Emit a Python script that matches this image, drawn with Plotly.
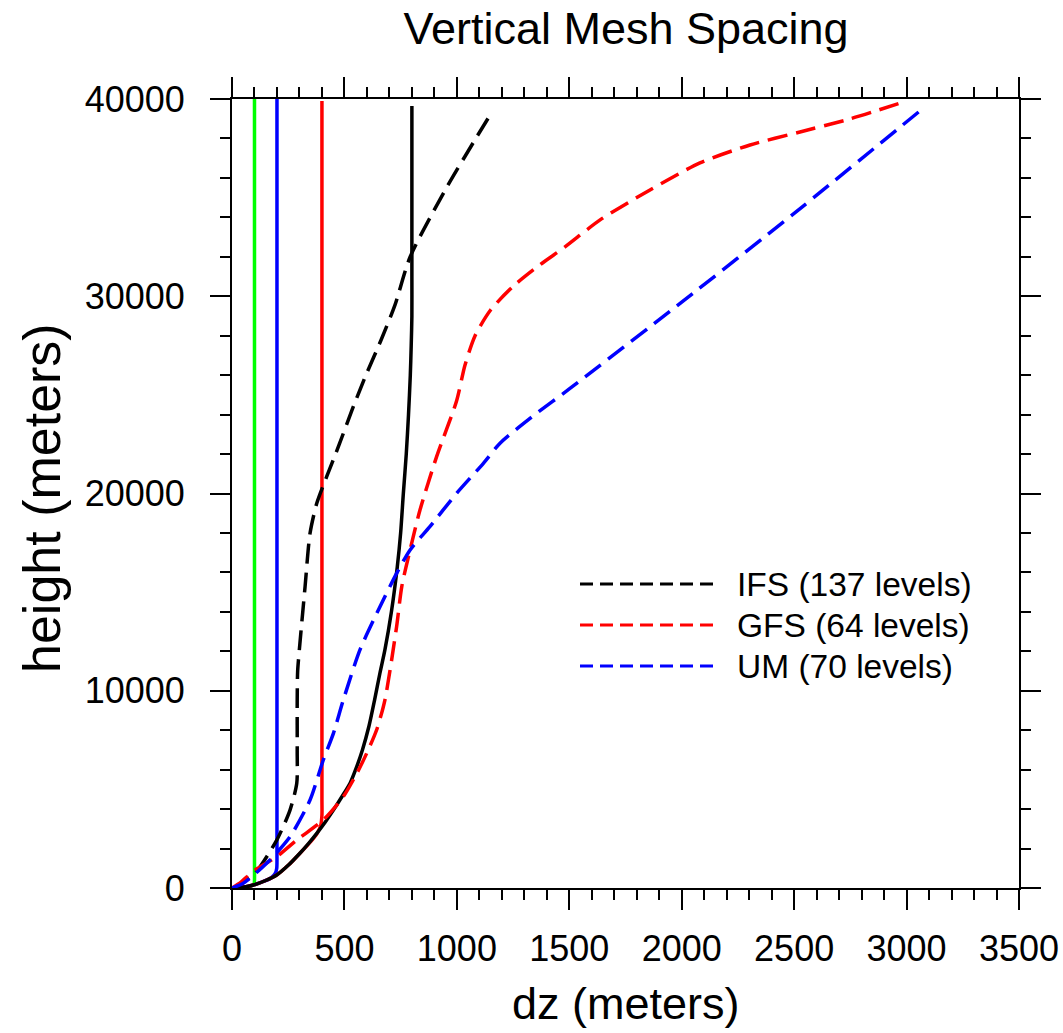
import plotly.graph_objects as go

# ---------------- data (dz in meters, height in meters) ----------------
# solid reference grids
blk_solid_dz = [0, 40, 95, 150, 199, 250, 302, 340, 377, 415, 451, 490, 525, 553, 580, 609, 634, 658, 680, 709, 735, 750, 762, 775, 785, 793, 797, 800, 800, 800, 800]
blk_solid_h = [0, 25, 150, 380, 660, 1150, 1760, 2250, 2770, 3350, 3950, 4650, 5310, 6100, 7000, 8200, 9530, 10900, 12070, 14000, 16270, 18000, 20000, 22000, 24000, 26000, 27500, 29000, 31000, 35000, 39650]

red_solid_dz = [0, 40, 95, 150, 199, 250, 302, 350, 380, 395, 400, 400, 400, 400]
red_solid_h = [0, 25, 150, 380, 660, 1150, 1760, 2350, 2800, 3200, 3700, 4500, 8000, 39900]

blue_solid_dz = [0, 60, 95, 140, 175, 193, 199, 200, 200, 200, 200]
blue_solid_h = [0, 60, 150, 330, 520, 750, 1000, 1300, 2000, 5000, 40000]

green_solid_dz = [0, 50, 80, 95, 99, 100, 100, 100, 100]
green_solid_h = [0, 40, 90, 150, 250, 400, 1500, 5000, 40000]

# operational model grids (dashed)
ifs_dz = [0, 21, 102, 199, 258, 288, 290, 290, 292, 302, 325, 347, 377, 421, 476, 534, 596, 663, 725, 792, 956, 1072, 1156]
ifs_h = [0, 65, 745, 2430, 3950, 5310, 7000, 9530, 11000, 12400, 15280, 17980, 19500, 20850, 22460, 24240, 26010, 27780, 29560, 31990, 35540, 37770, 39340]

gfs_dz = [0, 40, 102, 199, 288, 406, 495, 555, 599, 643, 680, 732, 755, 792, 836, 910, 999, 1036, 1081, 1150, 1250, 1370, 1481, 1637, 1859, 2081, 2304, 2526, 2748, 2993]
gfs_h = [0, 300, 910, 1590, 2430, 3450, 4630, 5810, 6830, 8010, 9530, 13250, 15280, 17140, 19160, 21870, 24700, 26500, 28000, 29300, 30500, 31600, 32500, 33870, 35390, 36760, 37670, 38330, 38990, 39870]

um_dz = [0, 50, 154, 258, 347, 406, 451, 495, 569, 658, 732, 792, 880, 999, 1118, 1192, 1330, 1500, 2000, 2500, 3064]
um_h = [0, 240, 1250, 2600, 4460, 6490, 7840, 9530, 12070, 14260, 15950, 17140, 18320, 20010, 21530, 22550, 23850, 25300, 29700, 34200, 39440]

legend_labels = ["IFS (137 levels)", "GFS (64 levels)", "UM (70 levels)"]
legend_colors = ["black", "red", "blue"]

x_ticks = [0, 500, 1000, 1500, 2000, 2500, 3000, 3500]
y_ticks = [0, 10000, 20000, 30000, 40000]

FONT = "Liberation Sans, Arial, Helvetica, sans-serif"
W, H = 1063, 1033
L, R, T, B = 232, 44, 99, 145
PW, PH = W - L - R, H - T - B

fig = go.Figure()

def add(x, y, color, dash):
    fig.add_trace(go.Scatter(x=x, y=y, mode="lines",
                             line=dict(color=color, width=3.5, dash=dash,
                                       shape="spline", smoothing=0.7),
                             showlegend=False, hoverinfo="skip"))

add(green_solid_dz, green_solid_h, "#00FF00", "solid")
add(blue_solid_dz, blue_solid_h, "#0000FF", "solid")
add(red_solid_dz, red_solid_h, "#FF0000", "solid")
add(blk_solid_dz, blk_solid_h, "black", "solid")
add(ifs_dz, ifs_h, "black", "20px,9px")
add(gfs_dz, gfs_h, "#FF0000", "20px,9px")
add(um_dz, um_h, "#0000FF", "20px,9px")

# manual legend (inside plot)
def px_x(p):
    return (p - L) / PW

def px_y(p):
    return (H - B - p) / PH

rows = [584, 625, 666]
for lab, col, ry in zip(legend_labels, legend_colors, rows):
    fig.add_shape(type="line", xref="paper", yref="paper",
                  x0=px_x(580), x1=px_x(720), y0=px_y(ry), y1=px_y(ry),
                  line=dict(color=col, width=3, dash="13px,7px"))
    fig.add_annotation(xref="paper", yref="paper", x=px_x(735), y=px_y(ry),
                       xanchor="left", yanchor="middle", showarrow=False,
                       text=lab, font=dict(family=FONT, size=33.5, color="black"))

# axis titles
fig.add_annotation(xref="paper", yref="paper", x=px_x(626), y=px_y(1003),
                   xanchor="center", yanchor="middle", showarrow=False,
                   text="dz (meters)", font=dict(family=FONT, size=45, color="black"))
fig.add_annotation(xref="paper", yref="paper", x=px_x(42), y=px_y(498),
                   xanchor="center", yanchor="middle", showarrow=False, textangle=-90,
                   text="height (meters)", font=dict(family=FONT, size=52, color="black"))

axis_common = dict(showline=True, linecolor="black", linewidth=2, mirror="allticks",
                   ticks="outside", ticklen=20, tickwidth=2, tickcolor="black",
                   showgrid=False, zeroline=False,
                   tickfont=dict(family=FONT, size=36, color="black"))

fig.update_xaxes(range=[0, 3500], tickmode="array", tickvals=x_ticks,
                 ticktext=[str(v) for v in x_ticks], ticklabelstandoff=8,
                 minor=dict(dtick=100, tick0=0, ticklen=10, tickwidth=2, tickcolor="black", ticks="outside", showgrid=False),
                 **axis_common)
fig.update_yaxes(range=[0, 40000], tickmode="array", tickvals=y_ticks,
                 ticktext=[str(v) for v in y_ticks], ticklabelstandoff=18,
                 minor=dict(dtick=2000, tick0=0, ticklen=10, tickwidth=2, tickcolor="black", ticks="outside", showgrid=False),
                 **axis_common)

fig.update_layout(
    width=W, height=H,
    margin=dict(l=L, r=R, t=T, b=B, autoexpand=False),
    paper_bgcolor="white", plot_bgcolor="white",
    title=dict(text="Vertical Mesh Spacing", x=px_x(626), xanchor="center",
               y=1 - 28 / H, yanchor="middle", xref="paper",
               font=dict(family=FONT, size=45, color="black")),
    showlegend=False,
)

fig.write_html("out.html")
